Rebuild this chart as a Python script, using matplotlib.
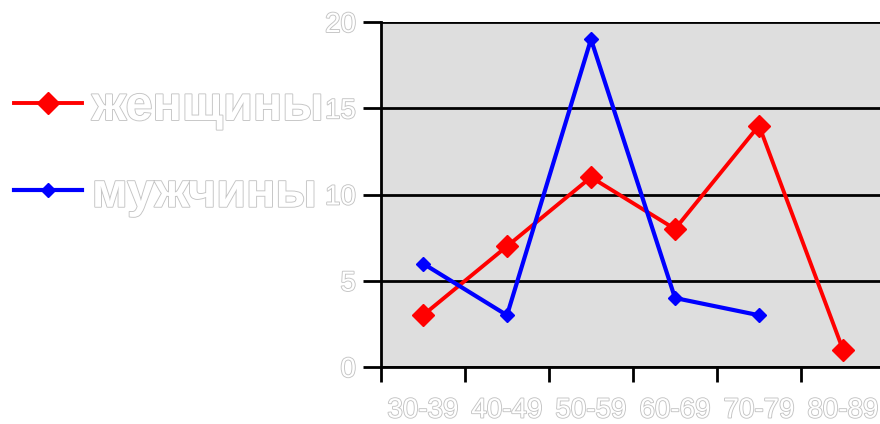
import matplotlib.pyplot as plt
import matplotlib.patheffects as pe
import numpy as np

# data
age_groups = ['30-39', '40-49', '50-59', '60-69', '70-79', '80-89']
women = [3, 7, 11, 8, 14, 1]
men = [6, 3, 19, 4, 3]
y_ticks = [0, 5, 10, 15, 20]

plt.rcParams['font.family'] = ['Liberation Sans', 'DejaVu Sans']

outline = [pe.withStroke(linewidth=1.3, foreground='#c4c4c4')]

fig = plt.figure(figsize=(8.8, 4.24), dpi=100)
fig.patch.set_facecolor('white')
ax = fig.add_axes([381 / 880, 57 / 424, 504 / 880, 345 / 424])
ax.set_facecolor('#dedede')

x = np.arange(len(age_groups)) + 0.5
lw, = ax.plot(x, women, color='#ff0000', lw=2.8, marker='D', ms=11.5,
              label='женщины', zorder=3)
lm, = ax.plot(x[:len(men)], men, color='#0000ff', lw=3, marker='D', ms=7,
              label='мужчины', zorder=4)

ax.set_xlim(0, len(age_groups))
ax.set_ylim(0, 20)

ax.set_yticks(y_ticks)
ax.set_yticklabels([str(v) for v in y_ticks])
ax.yaxis.grid(True, color='black', lw=2)
ax.set_axisbelow(True)

ax.set_xticks(np.arange(len(age_groups) + 1))
ax.set_xticklabels([])
ax.set_xticks(x, minor=True)
ax.set_xticklabels(age_groups, minor=True)
ax.tick_params(axis='x', which='major', direction='out', length=11, width=2)
ax.tick_params(axis='x', which='minor', length=0, pad=22)
ax.tick_params(axis='y', direction='out', length=13, width=2, pad=5)

for lab in ax.get_yticklabels() + ax.get_xticklabels(minor=True):
    lab.set_color('white')
    lab.set_fontsize(20)
    lab.set_path_effects(outline)

for s in ['top', 'right']:
    ax.spines[s].set_visible(False)
for s in ['left', 'bottom']:
    ax.spines[s].set_linewidth(2)
    ax.spines[s].set_color('black')

leg = fig.legend(handles=[lw, lm], loc='upper left',
                 bbox_to_anchor=(14 / 880, 1 - 85 / 424),
                 frameon=False, prop={'size': 35, 'weight': 'bold'},
                 handlelength=1.4, handletextpad=0.2, labelspacing=0.86,
                 borderpad=0, borderaxespad=0)
for t in leg.get_texts():
    t.set_color('white')
    t.set_path_effects(outline)

fig.savefig('out.png', dpi=100, facecolor='white')
